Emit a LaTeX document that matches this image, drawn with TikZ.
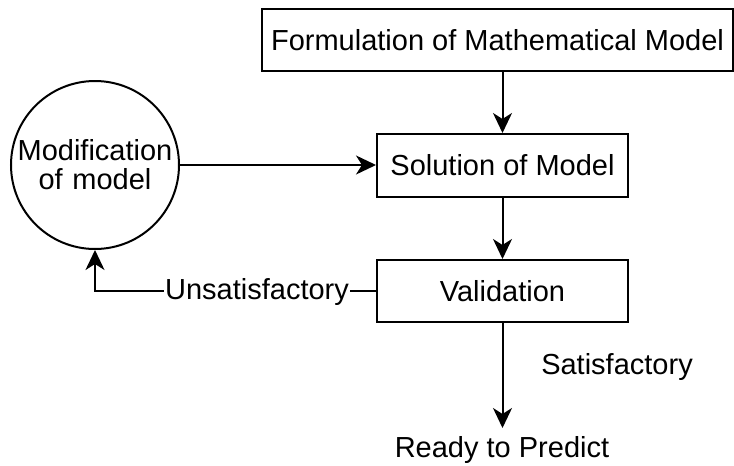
\documentclass[tikz,border=0pt]{standalone}
\usepackage{fontspec}
\setmainfont{Liberation Sans}
\usetikzlibrary{arrows.meta,shapes.geometric}
\begin{document}
\begin{tikzpicture}[x=1pt,y=-1pt,
  every node/.style={font=\fontsize{29}{33}\selectfont, inner sep=0pt},
  box/.style={draw, line width=2pt, rectangle, minimum height=62pt},
  ell/.style={draw, line width=2pt, circle, minimum size=168pt, align=center},
  conn/.style={line width=2pt, -{Stealth[length=20pt,width=19pt,inset=6pt]}}]
\useasboundingbox (0,0) rectangle (734,466);
\node[box, minimum width=471pt] (top) at (497.5,40) {Formulation of Mathematical Model};
\node[box, minimum width=251pt, minimum height=63pt] (sol) at (502.5,165.5) {Solution of Model};
\node[box, minimum width=251pt] (val) at (502.5,291) {Validation};
\node[ell, text width=160pt] (mod) at (95,165) {Modification\\[-4pt]of model};
\node (ready) at (502,450) {Ready to Predict};
\node (sat) at (617,367) {Satisfactory};
\coordinate (readyin) at (502.5,428);
\coordinate (corner) at (mod.south |- val.west);
\draw[conn] (sol.north |- top.south) -- (sol.north);
\draw[conn] (mod.east) -- (sol.west |- mod.east);
\draw[conn] (sol.south) -- (val.north);
\draw[conn] (val.south) -- (readyin);
\draw[conn] (val.west) -- (corner) -- (mod.south);
\node[fill=white, inner xsep=1pt] (unsat) at (257,292) {Unsatisfactory};
\end{tikzpicture}
\end{document}
